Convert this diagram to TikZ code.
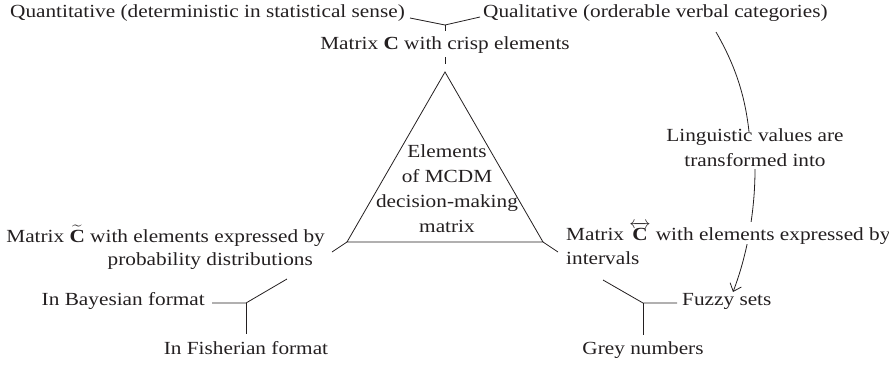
\documentclass[tikz,border=0pt]{standalone}
\usepackage{fontspec}
\usepackage{amsmath}
\setmainfont{Liberation Serif}[FakeStretch=1.15]
\usetikzlibrary{arrows.meta,backgrounds,calc}
\definecolor{ink}{RGB}{35,31,32}
\begin{document}
\begin{tikzpicture}[x=1pt,y=-1pt,
  lbl/.style={inner sep=0pt, font=\fontsize{18.5}{25}\selectfont, text=ink},
  conn/.style={draw=ink, line width=0.8pt},
  arr/.style={conn, -{Straight Barb[length=7pt,width=12pt]}},
]
\useasboundingbox (0,0) rectangle (889,368);
% texts
\node[lbl, anchor=mid east] (quant) at (405,15) {Quantitative (deterministic in statistical sense)};
\node[lbl, anchor=mid west] (qual) at (483,15) {Qualitative (orderable verbal categories)};
\node[lbl, anchor=mid] (crisp) at (445,47) {Matrix \textbf{C} with crisp elements};
\node[lbl, align=center] (elem) at (447,189) {Elements\\of MCDM\\decision-making\\matrix};
\node[lbl, anchor=mid east] (prob) at (325,240) {Matrix $\widetilde{\text{\textbf{C}}}$ with elements expressed by};
\node[lbl, anchor=mid east] (prob2) at (313,263) {probability distributions};
\node[lbl, anchor=mid west, fill=white] (intv) at (566,238) {Matrix $\overleftrightarrow{\text{\textbf{C}}}$ with elements expressed by};
\node[lbl, anchor=mid west] (intv2) at (566,262) {intervals};
\node[lbl, align=center] (ling) at (755,148) {Linguistic values are\\transformed into};
\node[lbl, anchor=mid east] (bayes) at (205,303) {In Bayesian format};
\node[lbl, anchor=mid] (fisher) at (246,352) {In Fisherian format};
\node[lbl, anchor=mid west] (fuzzy) at (682,303) {Fuzzy sets};
\node[lbl, anchor=mid] (grey) at (643,352) {Grey numbers};
% triangle
\coordinate (tA) at (445,72);
\coordinate (tL) at (347,242);
\coordinate (tR) at (543,242);
\draw[conn, line join=miter] (tA) -- (tL) -- (tR) -- cycle;
% top junction
\coordinate (jT) at (445,25);
\draw[conn] ($(quant.mid east)+(5,3)$) -- (jT) -- ($(qual.mid west)+(-3,2)$);
\draw[conn] (jT) -- ($(crisp.north)+(0,-5)$);
\draw[conn] ($(crisp.south)+(0,4)$) -- ($(tA)+(0,-8)$);
% vertex ticks
\draw[conn] (tL) -- ($(prob.mid east)+(7,12)$);
\draw[conn] (tR) -- ($(intv.mid west)+(-8,14)$);
% bottom-left junction
\coordinate (jBL) at (246,303);
\draw[conn] ($(prob2.mid east)+(-26,16)$) -- (jBL) -- ($(bayes.mid east)+(7,0)$);
\draw[conn] (jBL) -- ($(fisher.north)+(0,-7)$);
% bottom-right junction
\coordinate (jBR) at (643,303);
\draw[conn] ($(intv2.mid west)+(37,18)$) -- (jBR) -- ($(fuzzy.mid west)+(-5,0)$);
\draw[conn] (jBR) -- ($(grey.north)+(0,-6)$);
% curves
\coordinate (lq) at (716,32);
\coordinate (fz) at (733,292);
\begin{scope}[on background layer]
\draw[conn] (lq) .. controls (735,65) and (745,95) .. ($(ling.north)+(-6,3)$);
\draw[arr] ($(ling.south)+(0,2)$) .. controls (755,215) and (746,258) .. (fz);
\end{scope}
\end{tikzpicture}
\end{document}
